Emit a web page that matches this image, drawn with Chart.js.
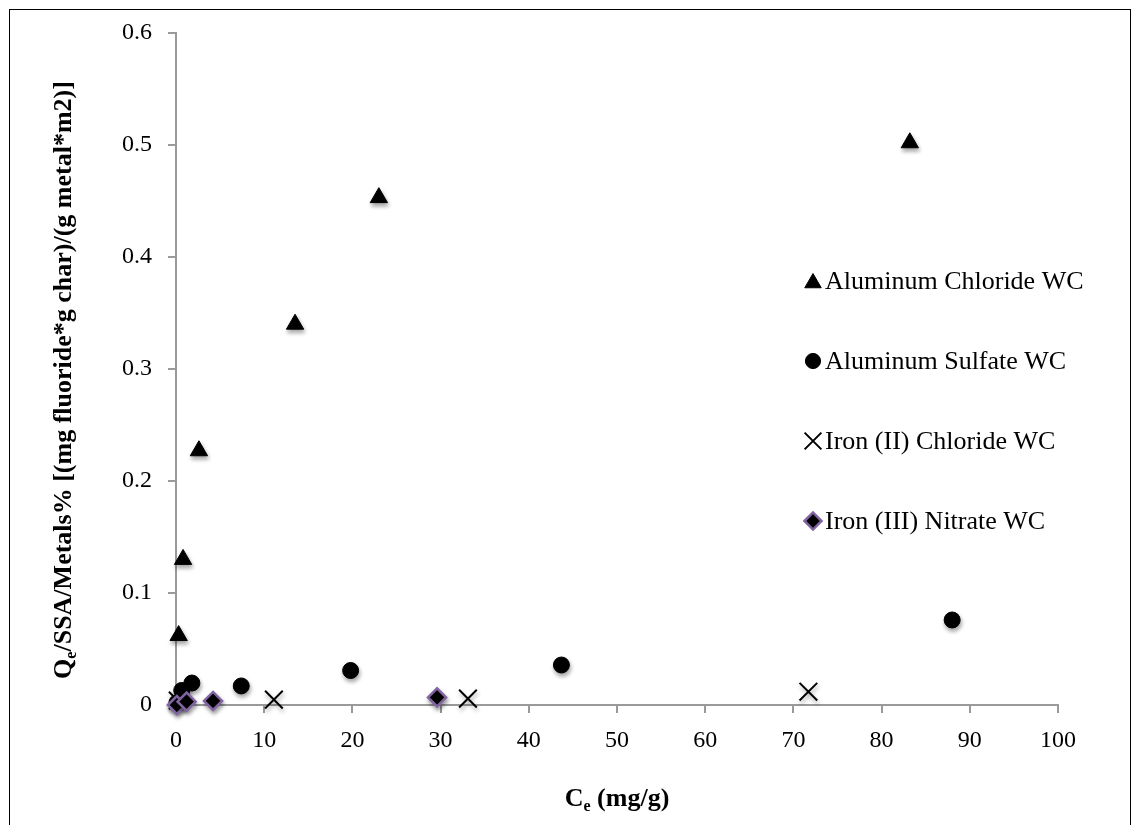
<!DOCTYPE html>
<html>
<head>
<meta charset="utf-8">
<script src="https://cdn.jsdelivr.net/npm/chart.js@4.4.1/dist/chart.umd.min.js"></script>
<style>
  body { margin: 0; background: #fff; }
  #wrap { position: relative; width: 1140px; height: 825px; overflow: hidden; }
  #frame { position: absolute; left: 9px; top: 9px; width: 1120px; height: 840px; border: 1px solid #000; }
  canvas { position: absolute; left: 0; top: 0; }
</style>
</head>
<body>
<div id="wrap">
  <div id="frame"></div>
  <canvas id="chart" width="1140" height="825"></canvas>
</div>
<script>
// values
const seriesNames = ['Aluminum Chloride WC', 'Aluminum Sulfate WC', 'Iron (II) Chloride WC', 'Iron (III) Nitrate WC'];

const alClX = [0.3, 0.8, 2.6, 13.5, 23.0, 83.2];
const alClY = [0.062, 0.130, 0.227, 0.340, 0.453, 0.502];

const alSoX = [0.1, 0.65, 1.8, 7.4, 19.8, 43.7, 88.0];
const alSoY = [0.002, 0.013, 0.0196, 0.017, 0.0308, 0.0357, 0.0759];

const fe2X = [0.2, 11.1, 33.1, 71.7];
const fe2Y = [0.004, 0.0048, 0.0057, 0.0119];

const fe3X = [0.1, 1.2, 4.2, 29.6];
const fe3Y = [0.0, 0.003, 0.0036, 0.0068];

const xTicks = [0, 10, 20, 30, 40, 50, 60, 70, 80, 90, 100];
const yTicks = [0, 0.1, 0.2, 0.3, 0.4, 0.5, 0.6];
const yTickLabels = ['0', '0.1', '0.2', '0.3', '0.4', '0.5', '0.6'];

const toPoints = (xs, ys) => xs.map((x, i) => ({ x: x, y: ys[i] }));

const serif = '"Liberation Serif", "Times New Roman", serif';
const axisGray = '#9a9a9a';

// label with a subscript, centred on x
function drawSubText(ctx, main, sub, rest, x, y) {
  const big = 'bold 26px ' + serif;
  const small = 'bold 16px ' + serif;
  ctx.font = big;
  const w1 = ctx.measureText(main).width;
  const w3 = ctx.measureText(rest).width;
  ctx.font = small;
  const w2 = ctx.measureText(sub).width;
  let sx = x - (w1 + w2 + w3) / 2;
  ctx.textAlign = 'left';
  ctx.font = big;
  ctx.fillText(main, sx, y);
  ctx.font = small;
  ctx.fillText(sub, sx + w1, y + 5);
  ctx.font = big;
  ctx.fillText(rest, sx + w1 + w2, y);
}

const axisTitles = {
  id: 'axisTitles',
  afterDraw(chart) {
    const ctx = chart.ctx;
    const a = chart.chartArea;
    ctx.save();
    ctx.fillStyle = '#000';
    ctx.textBaseline = 'alphabetic';
    drawSubText(ctx, 'C', 'e', ' (mg/g)', (a.left + a.right) / 2, 806);
    ctx.translate(71, 380);
    ctx.rotate(-Math.PI / 2);
    drawSubText(ctx, 'Q', 'e', '/SSA/Metals% [(mg fluoride*g char)/(g metal*m2)]', 0, 0);
    ctx.restore();
  }
};

const insideLegend = {
  id: 'insideLegend',
  afterDraw(chart) {
    const ctx = chart.ctx;
    ctx.save();
    ctx.textBaseline = 'middle';
    ctx.textAlign = 'left';
    chart.data.datasets.forEach((ds, i) => {
      const y = 281 + i * 80;
      ctx.fillStyle = ds.backgroundColor;
      ctx.strokeStyle = ds.borderColor;
      ctx.lineWidth = ds.borderWidth;
      const yOff = ds.pointStyle === 'triangle' ? 2 : 0;
      Chart.helpers.drawPoint(ctx, {
        pointStyle: ds.pointStyle,
        radius: ds.pointRadius * 0.95,
        borderWidth: ds.borderWidth,
        rotation: 0
      }, 813, y + yOff);
      ctx.fillStyle = '#000';
      ctx.font = '26px ' + serif;
      ctx.fillText(ds.label, 825, y + 1);
    });
    ctx.restore();
  }
};

const markerShadow = {
  id: 'markerShadow',
  beforeDatasetsDraw(chart) {
    const ctx = chart.ctx;
    ctx.save();
    ctx.shadowColor = 'rgba(0,0,0,0.35)';
    ctx.shadowBlur = 4;
    ctx.shadowOffsetX = 1;
    ctx.shadowOffsetY = 3;
  },
  afterDatasetsDraw(chart) {
    chart.ctx.restore();
  }
};

new Chart(document.getElementById('chart'), {
  type: 'scatter',
  data: {
    datasets: [
      {
        label: seriesNames[0],
        data: toPoints(alClX, alClY),
        pointStyle: 'triangle',
        pointRadius: 10,
        backgroundColor: '#000',
        borderColor: '#000',
        borderWidth: 1,
        order: 3,
        clip: false
      },
      {
        label: seriesNames[1],
        data: toPoints(alSoX, alSoY),
        pointStyle: 'circle',
        pointRadius: 8,
        backgroundColor: '#000',
        borderColor: '#000',
        borderWidth: 1,
        order: 2,
        clip: false
      },
      {
        label: seriesNames[2],
        data: toPoints(fe2X, fe2Y),
        pointStyle: 'crossRot',
        pointRadius: 12.5,
        backgroundColor: '#000',
        borderColor: '#000',
        borderWidth: 2,
        order: 1,
        clip: false
      },
      {
        label: seriesNames[3],
        data: toPoints(fe3X, fe3Y),
        pointStyle: 'rectRot',
        pointRadius: 9,
        backgroundColor: '#000',
        borderColor: '#8064A2',
        borderWidth: 2.5,
        order: 0,
        clip: false
      }
    ]
  },
  options: {
    responsive: false,
    animation: false,
    events: [],
    layout: { padding: { top: 33, right: 82, bottom: 0, left: 0 } },
    plugins: {
      legend: { display: false },
      tooltip: { enabled: false }
    },
    scales: {
      x: {
        type: 'linear',
        min: 0,
        max: 100,
        afterBuildTicks: (scale) => { scale.ticks = xTicks.map(v => ({ value: v })); },
        afterFit: (scale) => { scale.height = 120; },
        ticks: {
          color: '#000',
          font: { family: serif, size: 24 },
          padding: 13,
          callback: (v) => String(v)
        },
        grid: { drawOnChartArea: false, drawTicks: true, tickLength: 8, color: axisGray, lineWidth: 2 },
        border: { display: true, color: axisGray, width: 2 }
      },
      y: {
        type: 'linear',
        min: 0,
        max: 0.6,
        afterBuildTicks: (scale) => { scale.ticks = yTicks.map(v => ({ value: v })); },
        afterFit: (scale) => { scale.width = 176; },
        ticks: {
          color: '#000',
          font: { family: serif, size: 24 },
          padding: 16,
          callback: (v) => yTickLabels[yTicks.findIndex(t => Math.abs(t - v) < 1e-9)]
        },
        grid: { drawOnChartArea: false, drawTicks: true, tickLength: 8, color: axisGray, lineWidth: 2 },
        border: { display: true, color: axisGray, width: 2 }
      }
    }
  },
  plugins: [markerShadow, axisTitles, insideLegend]
});
</script>
</body>
</html>
